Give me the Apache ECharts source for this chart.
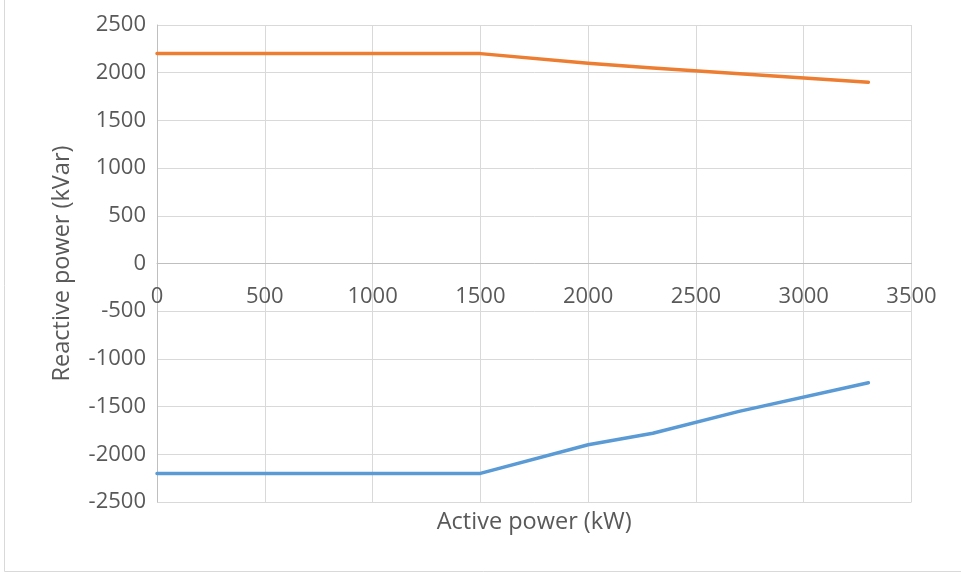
<!DOCTYPE html>
<html>
<head>
<meta charset="utf-8">
<script src="https://cdn.jsdelivr.net/npm/echarts@6/dist/echarts.min.js"></script>
<style>
  html, body { margin: 0; padding: 0; background: #ffffff; }
  #chart { width: 961px; height: 573px; }
</style>
</head>
<body>
<div id="chart"></div>
<script>
// Capability curve: reactive power limits against active power
const activePowerUpper = [0, 1500, 2000, 2300, 3300];
const reactiveUpper = [2200, 2200, 2100, 2050, 1900];

const activePowerLower = [0, 1500, 2000, 2300, 2700, 3300];
const reactiveLower = [-2200, -2200, -1900, -1780, -1550, -1250];

const xTicks = { min: 0, max: 3500, step: 500 };
const yTicks = { min: -2500, max: 2500, step: 500 };

const pairs = (xs, ys) => xs.map((x, i) => [x, ys[i]]);
const plain = v => String(v);

const FONT = 'Open Sans';
const TEXT = '#595959';

const GRID = { left: 157, right: 49.5, top: 25, bottom: 71 };
const plotHeight = 573 - GRID.top - GRID.bottom;
// y range is symmetric, so the zero line sits half-way up the plot;
// the horizontal axis is lifted there so its labels follow the zero line
const zeroLift = -plotHeight * (0 - yTicks.min) / (yTicks.max - yTicks.min);

const chart = echarts.init(document.getElementById('chart'), null, { renderer: 'canvas' });
chart.setOption({
  animation: false,
  backgroundColor: '#ffffff',
  graphic: [{
    type: 'rect',
    shape: { x: 4.5, y: -5, width: 1000, height: 576.5 },
    style: { fill: 'none', stroke: '#d9d9d9', lineWidth: 1 },
    silent: true
  }],
  grid: Object.assign({ containLabel: false, outerBoundsMode: 'none' }, GRID),
  xAxis: {
    type: 'value',
    min: xTicks.min, max: xTicks.max, interval: xTicks.step,
    offset: zeroLift,
    name: 'Active power (kW)',
    nameLocation: 'middle',
    nameGap: 247,
    nameTextStyle: { color: TEXT, fontSize: 23.5, fontFamily: FONT },
    axisLine: { show: true, onZero: false, lineStyle: { color: '#bfbfbf', width: 1 } },
    axisTick: { show: false },
    axisLabel: { color: TEXT, fontSize: 22, fontFamily: FONT, margin: 22, formatter: plain },
    splitLine: { show: true, lineStyle: { color: '#d9d9d9', width: 1 } }
  },
  yAxis: {
    type: 'value',
    min: yTicks.min, max: yTicks.max, interval: yTicks.step,
    name: 'Reactive power (kVar)',
    nameLocation: 'middle',
    nameGap: 83,
    nameRotate: 90,
    nameTextStyle: { color: TEXT, fontSize: 23.5, fontFamily: FONT },
    axisLine: { show: true, lineStyle: { color: '#bfbfbf', width: 1 } },
    axisTick: { show: false },
    axisLabel: { color: TEXT, fontSize: 22, fontFamily: FONT, margin: 11, formatter: plain },
    splitLine: { show: true, lineStyle: { color: '#d9d9d9', width: 1 } }
  },
  series: [
    {
      name: 'Upper limit',
      type: 'line',
      data: pairs(activePowerUpper, reactiveUpper),
      showSymbol: false,
      lineStyle: { color: '#ED7D31', width: 3.5, cap: 'round', join: 'round' },
      itemStyle: { color: '#ED7D31' }
    },
    {
      name: 'Lower limit',
      type: 'line',
      data: pairs(activePowerLower, reactiveLower),
      showSymbol: false,
      lineStyle: { color: '#5B9BD5', width: 3.5, cap: 'round', join: 'round' },
      itemStyle: { color: '#5B9BD5' }
    }
  ]
});
</script>
</body>
</html>
